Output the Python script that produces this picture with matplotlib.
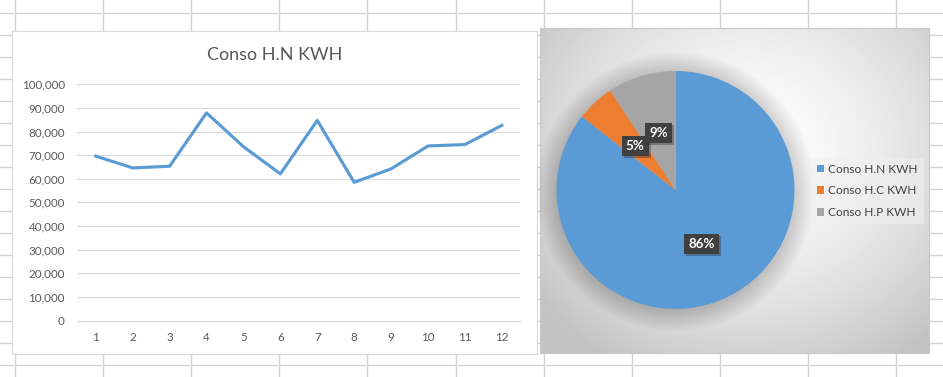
import numpy as np
import matplotlib
matplotlib.use("Agg")
import matplotlib.pyplot as plt
from matplotlib.patches import Rectangle, Circle
from matplotlib.ticker import FuncFormatter
from matplotlib import patheffects

plt.rcParams['font.family'] = ['Lato', 'DejaVu Sans']

# ---------------- data ----------------
months = [1, 2, 3, 4, 5, 6, 7, 8, 9, 10, 11, 12]
conso_hn = [69600, 64600, 65300, 87900, 73600, 62100, 84700, 58500, 64200, 73900, 74500, 82600]
line_title = "Conso H.N KWH"
y_ticks = [0, 10000, 20000, 30000, 40000, 50000, 60000, 70000, 80000, 90000, 100000]

pie_labels = ["Conso H.N KWH", "Conso H.C KWH", "Conso H.P KWH"]
pie_values = [861500, 52000, 93000]
pie_colors = ["#5B9BD5", "#ED7D31", "#A5A5A5"]

# ---------------- figure ----------------
W, H = 943, 377
DPI = 100
fig = plt.figure(figsize=(W / DPI, H / DPI), dpi=DPI, facecolor="white")


def frac(left, top, right, bottom):
    return [left / W, 1 - bottom / H, (right - left) / W, (bottom - top) / H]


# background (spreadsheet grid + chart boxes)
bg = fig.add_axes([0, 0, 1, 1])
bg.set_xlim(0, W)
bg.set_ylim(H, 0)
bg.axis("off")
grid_c = "#d4d4d4"
for k in range(12):
    bg.axvline(15 + 88.1 * k, color=grid_c, lw=1.0)
for k in range(17):
    bg.axhline(13.3 + 22 * k, color=grid_c, lw=1.0)

# line chart box
bg.add_patch(Rectangle((12.3, 30.7), 537.3 - 12.3, 354 - 30.7, facecolor="white",
                       edgecolor="#d9d9d9", lw=0.8, zorder=3))

# pie chart box with radial gradient
px0, px1, py0, py1 = 540.0, 929.3, 28.3, 353.0
xs = np.linspace(px0, px1, 390)
ys = np.linspace(py0, py1, 325)
X, Y = np.meshgrid(xs, ys)
r = np.sqrt(((X - 750) / 270) ** 2 + ((Y - 150) / 250) ** 2)
img = 1 - 0.24 * np.clip(r, 0, 1.0) ** 1.5
bg.imshow(img, extent=(px0, px1, py1, py0), cmap="gray", vmin=0, vmax=1,
          aspect="auto", interpolation="bilinear", zorder=3)
bg.add_patch(Rectangle((px0, py0), px1 - px0, py1 - py0, facecolor="none",
                       edgecolor="#c8c8c8", lw=0.8, zorder=4))

# ---------------- line chart ----------------
ax = fig.add_axes(frac(77.3, 84.3, 520.3, 320.5))
ax.set_facecolor("none")
ax.plot(months, conso_hn, color="#5B9BD5", lw=2.25, solid_joinstyle="round", zorder=3)
ax.set_xlim(0.5, 12.5)
ax.set_ylim(0, 100000)
ax.set_xticks(months)
ax.set_yticks(y_ticks)
ax.yaxis.set_major_formatter(FuncFormatter(lambda v, p: f"{int(v):,}"))
ax.grid(axis="y", color="#d9d9d9", lw=0.8)
ax.set_axisbelow(True)
for s in ["top", "right", "left"]:
    ax.spines[s].set_visible(False)
ax.spines["bottom"].set_color("#d9d9d9")
ax.spines["bottom"].set_linewidth(0.8)
ax.tick_params(axis="both", length=0, labelsize=8.4, labelcolor="#595959")
ax.tick_params(axis="y", pad=9)
ax.tick_params(axis="x", pad=8)
fig.text(274.7 / W, 1 - 55 / H, line_title, ha="center", va="center",
         fontsize=13, color="#595959")

# ---------------- pie chart ----------------
R = 119.0
cx, cy = 675.5, 190.0
lim = 1.25
half = R * lim
pax = fig.add_axes(frac(cx - half, cy - half, cx + half, cy + half))
pax.set_facecolor("none")

# soft shadow around the pie
for k in range(22):
    pax.add_patch(Circle((0.0, -0.01), 1.0 + 0.008 * (k + 1), facecolor="black",
                         edgecolor="none", alpha=0.009, zorder=0))

wedges, texts, autotexts = pax.pie(
    pie_values, colors=pie_colors, startangle=90, counterclock=False,
    autopct="%1.0f%%", pctdistance=0.5,
    textprops=dict(color="white", fontsize=9.6, fontweight="bold"),
    wedgeprops=dict(linewidth=0, zorder=2))
pax.set_xlim(-lim, lim)
pax.set_ylim(-lim, lim)
pax.set_aspect("equal")
for t in autotexts:
    t.set_zorder(5)
    t.set_bbox(dict(boxstyle="square,pad=0.3", facecolor="#404040", edgecolor="none"))
    t.get_bbox_patch().set_path_effects([
        patheffects.SimplePatchShadow(offset=(1.5, -1.5), alpha=0.3),
        patheffects.Normal()])

leg = pax.legend(wedges, pie_labels, loc="center left",
                 bbox_to_anchor=(811 / W, 1 - 191 / H), bbox_transform=fig.transFigure,
                 fontsize=8.6, frameon=True, fancybox=False, borderaxespad=0,
                 borderpad=0.5, handlelength=0.6, handleheight=0.6,
                 handletextpad=0.35, labelspacing=0.9, labelcolor="#404040")
fr = leg.get_frame()
fr.set_facecolor("#f0f0f0")
fr.set_alpha(0.55)
fr.set_edgecolor("none")

fig.savefig("out.png", dpi=DPI, facecolor="white")
